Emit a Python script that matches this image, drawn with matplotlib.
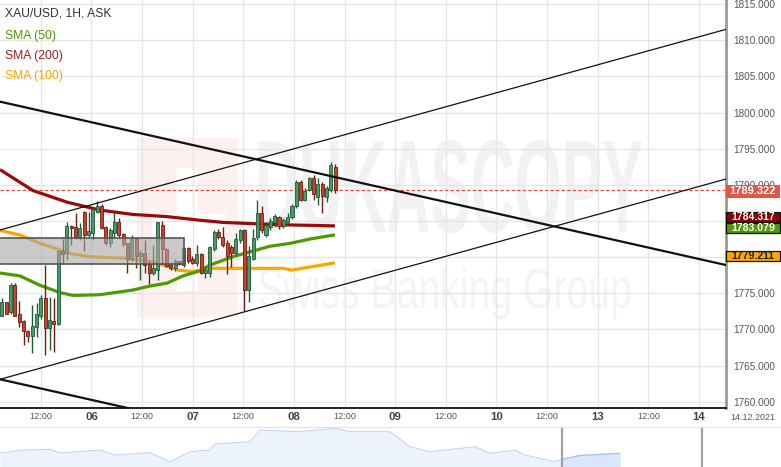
import numpy as np
import matplotlib
matplotlib.use('Agg')
import matplotlib.pyplot as plt
from matplotlib.patches import Rectangle, PathPatch
from matplotlib.textpath import TextPath
from matplotlib.font_manager import FontProperties
from matplotlib.transforms import Affine2D, blended_transform_factory

plt.rcParams['font.family'] = ['Liberation Sans', 'DejaVu Sans']

# hourly candles, hours counted from 06 00:00
opens = [1771.9, 1773.8, 1772.4, 1776.2, 1772.1, 1771.1, 1769.8, 1769.1, 1770.4, 1771.9,
         1774.4, 1770.2, 1771.1, 1770.8, 1780.9, 1780.5, 1784.3, 1784.1, 1782.8, 1786.2,
         1783.0, 1783.4, 1786.3, 1787.1, 1784.1, 1781.9, 1783.4, 1784.9, 1783.2, 1781.9,
         1779.8, 1782.5, 1780.1, 1780.6, 1779.1, 1777.8, 1778.2, 1784.4, 1781.1, 1778.9,
         1778.5, 1779.5, 1778.9, 1781.2, 1779.7, 1779.2, 1780.4, 1777.8, 1777.8, 1781.1,
         1783.5, 1782.8, 1782.0, 1781.4, 1780.5, 1782.4, 1783.7, 1775.5, 1779.8, 1782.8,
         1786.1, 1783.1, 1784.1, 1784.9, 1785.5, 1784.3, 1784.9, 1785.5, 1787.0, 1790.4,
         1787.9, 1789.3, 1791.0, 1788.3, 1790.1, 1788.3, 1789.3, 1792.5]
highs = [1774.4, 1773.8, 1776.4, 1776.4, 1773.9, 1771.3, 1769.9, 1773.4, 1773.7, 1774.8,
         1778.9, 1774.5, 1774.4, 1781.0, 1782.5, 1784.8, 1784.4, 1786.1, 1784.7, 1786.4,
         1786.3, 1786.8, 1787.7, 1787.3, 1784.3, 1784.0, 1786.3, 1785.4, 1783.3, 1782.0,
         1783.1, 1782.8, 1781.0, 1782.3, 1779.6, 1781.7, 1784.9, 1785.0, 1781.2, 1779.2,
         1779.7, 1779.5, 1781.4, 1781.4, 1780.1, 1781.7, 1780.5, 1778.6, 1781.5, 1783.7,
         1783.9, 1784.2, 1782.4, 1781.7, 1783.4, 1783.9, 1783.9, 1781.5, 1783.9, 1787.9,
         1787.0, 1784.9, 1785.4, 1785.9, 1785.7, 1785.4, 1786.1, 1787.4, 1790.7, 1790.7,
         1789.5, 1791.1, 1791.4, 1790.9, 1790.4, 1789.8, 1793.2, 1792.9]
lows = [1771.8, 1772.1, 1772.2, 1771.8, 1770.4, 1767.8, 1768.2, 1766.7, 1769.0, 1771.5,
        1766.5, 1767.2, 1766.9, 1770.6, 1779.1, 1779.6, 1781.7, 1782.5, 1782.4, 1780.9,
        1782.8, 1782.4, 1786.1, 1783.9, 1781.7, 1781.4, 1782.8, 1782.8, 1781.5, 1777.8,
        1779.4, 1778.5, 1776.8, 1777.8, 1776.3, 1777.5, 1776.8, 1779.1, 1778.6, 1778.2,
        1778.1, 1778.9, 1778.6, 1779.2, 1779.1, 1778.8, 1777.7, 1777.1, 1777.2, 1780.9,
        1782.5, 1781.4, 1777.7, 1778.6, 1780.3, 1782.0, 1772.5, 1773.8, 1779.6, 1782.4,
        1783.3, 1782.8, 1783.8, 1784.1, 1783.9, 1784.0, 1784.7, 1785.3, 1786.8, 1787.7,
        1787.7, 1789.1, 1787.9, 1787.2, 1786.1, 1787.6, 1789.0, 1788.9]
closes = [1773.8, 1772.2, 1776.2, 1771.9, 1771.0, 1769.8, 1769.1, 1770.5, 1772.1, 1774.4,
          1770.2, 1771.3, 1770.8, 1780.9, 1780.4, 1784.3, 1784.0, 1782.8, 1784.0, 1783.0,
          1783.6, 1786.6, 1787.1, 1784.0, 1781.9, 1783.7, 1784.9, 1783.1, 1781.8, 1779.8,
          1782.5, 1780.2, 1780.6, 1778.9, 1777.8, 1778.5, 1784.8, 1781.1, 1778.8, 1778.5,
          1779.4, 1779.1, 1781.2, 1779.5, 1779.2, 1780.4, 1777.8, 1778.2, 1781.4, 1783.5,
          1782.8, 1781.7, 1780.2, 1780.6, 1782.5, 1783.7, 1775.5, 1780.1, 1782.7, 1786.1,
          1783.8, 1784.4, 1785.0, 1785.7, 1784.3, 1785.1, 1785.6, 1787.1, 1790.4, 1787.9,
          1789.1, 1791.0, 1788.7, 1790.1, 1788.5, 1789.6, 1792.7, 1789.322]
candle_hours = np.linspace(-21.2, 57.8, len(closes))

# moving averages
sma50_hours = [-21.66, -16.92, -12.18, -7.44, -4.36, 2.04, 9.86, 13.89, 17.91, 21.71,
               25.73, 28.1, 33.55, 42.3, 47.06, 51.8, 57.72]
sma50 = [1777.8, 1777.4, 1776.1, 1775.1, 1774.7, 1774.8, 1775.45, 1776.0, 1776.4, 1777.4,
         1778.1, 1778.9, 1780.06, 1781.5, 1781.9, 1782.5, 1783.079]
sma100_hours = [-21.66, -16.92, -12.18, -7.44, -5.07, -0.33, 7.96, 14.36, 18.15, 20.52,
                23.85, 28.1, 39.95, 45.4, 47.5, 49.4, 57.72]
sma100 = [1783.7, 1783.05, 1781.9, 1781.0, 1780.5, 1780.06, 1779.83, 1779.36, 1778.7, 1778.2,
          1778.0, 1778.45, 1778.45, 1778.45, 1778.2, 1778.4, 1779.211]
sma200_hours = [-21.66, -13.84, -5.78, 2.04, 9.86, 17.91, 25.73, 31.18, 39.24, 47.06, 57.72]
sma200 = [1792.1, 1789.2, 1787.6, 1786.5, 1785.9, 1785.6, 1785.1, 1784.8, 1784.6, 1784.45, 1784.317]

# drawn trend lines: (start price, end price) across the visible range
line_hours = [-21.66, 150.4]
upper_trend = [1801.5, 1778.9]
lower_trend = [1763.1, 1740.5]
channel_top = [1783.75, 1811.5]
channel_bottom = [1763.1, 1790.8]

zone_hours = [-25, 22.0]
zone_prices = [1779.0, 1782.7]

last_price = 1789.322

tick_hours = [-12, 0, 12, 24, 36, 48, 60, 72, 84, 96, 108, 120, 132, 144]
tick_labels = ['12:00', '06', '12:00', '07', '12:00', '08', '12:00', '09',
               '12:00', '10', '12:00', '13', '12:00', '14']
price_ticks = np.arange(1760, 1816, 5)

# navigator overview series
nav_days = [0, 2.5, 5, 6, 10, 11.5, 15, 17, 19, 21, 21.5, 25, 26, 30, 33.5, 35, 39, 41,
            43, 47.5, 49, 51.5, 52.5, 55.5, 56.2, 58, 62]
nav_vals = [1774, 1777, 1777.7, 1774, 1777, 1772, 1774.3, 1765.3, 1775.3, 1777, 1783,
            1785.3, 1797, 1795.3, 1798.7, 1795.3, 1795.3, 1780.3, 1775.3, 1780.3, 1773.7,
            1777, 1772, 1765.3, 1767.7, 1771.5, 1773.7]
nav_handles = [56.2, 70.2]

green = '#4e9a06'
darkred = '#990b0b'
orange = '#ffa500'

fig = plt.figure(figsize=(7.81, 4.67), dpi=100)
ax = fig.add_axes([0, 59 / 467, 726 / 781, 408 / 467])
ax.set_xlim(line_hours)
ax.set_ylim(1759.13, 1815.56)
ax.set_axisbelow(True)


def watermark(text, x0, y0, x1, y1, color, weight='normal'):
    tp = TextPath((0, 0), text, size=1,
                  prop=FontProperties(family='Liberation Sans', weight=weight))
    bb = tp.get_extents()
    tr = (Affine2D().translate(-bb.x0, -bb.y0)
          .scale((x1 - x0) / bb.width, (y1 - y0) / bb.height)
          .translate(x0, y0) + ax.transAxes)
    ax.add_patch(PathPatch(tp, transform=tr, fc=color, ec='none', zorder=0.3))


# watermark logo and text
ax.add_patch(Rectangle((0.189, 0.223), 0.139, 0.439, transform=ax.transAxes,
                       fc='#fdf1f0', ec='none', zorder=0.2))
ax.add_patch(Rectangle((0.244, 0.287), 0.029, 0.301, transform=ax.transAxes,
                       fc='white', ec='none', zorder=0.25))
ax.add_patch(Rectangle((0.209, 0.385), 0.101, 0.09, transform=ax.transAxes,
                       fc='white', ec='none', zorder=0.25))
watermark('DUKASCOPY', 0.357, 0.429, 0.884, 0.657, '#f2f2f2', weight='bold')
watermark('Swiss Banking Group', 0.357, 0.216, 0.868, 0.346, '#f4f4f4')

ax.grid(True, color='#e6e6e6', lw=1)

# trend lines
ax.plot(line_hours, upper_trend, color='#111111', lw=1.6, zorder=6)
ax.plot(line_hours, lower_trend, color='#111111', lw=1.6, zorder=6)
ax.plot(line_hours, channel_top, color='#111111', lw=0.9, zorder=6)
ax.plot(line_hours, channel_bottom, color='#111111', lw=0.9, zorder=6)

ax.axhline(last_price, color='#e0473a', lw=0.8, ls=(0, (3, 2)), zorder=2.5)

# moving averages
ax.plot(sma200_hours, sma200, color=darkred, lw=2.3, zorder=2.8, solid_capstyle='butt')
ax.plot(sma100_hours, sma100, color=orange, lw=2.3, zorder=2.8, solid_capstyle='butt')
ax.plot(sma50_hours, sma50, color=green, lw=2.3, zorder=2.8, solid_capstyle='butt')

# candles
o, h, l, c = map(np.array, (opens, highs, lows, closes))
t = candle_hours
up = c >= o
dn = ~up
ax.vlines(t[up], l[up], h[up], color='#1f5a35', lw=1, zorder=3)
ax.vlines(t[dn], l[dn], h[dn], color='#6e1c12', lw=1, zorder=3)
ax.bar(t[up], np.maximum(c - o, 0.1)[up], bottom=o[up], width=0.72,
       color='#459a68', edgecolor='#1f5a35', lw=0.6, zorder=4)
ax.bar(t[dn], np.maximum(o - c, 0.1)[dn], bottom=c[dn], width=0.72,
       color='#c8412d', edgecolor='#6e1c12', lw=0.6, zorder=4)

# consolidation zone
ax.add_patch(Rectangle((zone_hours[0], zone_prices[0]), zone_hours[1] - zone_hours[0],
                       zone_prices[1] - zone_prices[0], fc='#a8a8a8', alpha=0.6,
                       ec='none', zorder=5))
ax.add_patch(Rectangle((zone_hours[0], zone_prices[0]), zone_hours[1] - zone_hours[0],
                       zone_prices[1] - zone_prices[0], fc='none', ec='#555555',
                       lw=1.2, zorder=5))

# axes styling
for side in ('top', 'left'):
    ax.spines[side].set_visible(False)
ax.spines['right'].set_color('#9a9a9a')
ax.spines['right'].set_linewidth(2)
ax.spines['bottom'].set_color('#111111')
ax.spines['bottom'].set_linewidth(1.3)

ax.yaxis.tick_right()
ax.set_yticks(price_ticks, [f'{p:.3f}' for p in price_ticks])
ax.tick_params(axis='y', length=0, pad=5, labelsize=7.2, labelcolor='#555555')
ax.set_xticks(tick_hours, tick_labels)
ax.tick_params(axis='x', length=0, pad=6.3)
for lab in ax.get_xticklabels():
    lab.set_va('center')
    if lab.get_text() == '12:00':
        lab.set_fontsize(6.6)
        lab.set_color('#555555')
    else:
        lab.set_fontsize(8.2)
        lab.set_fontweight('bold')
        lab.set_color('#444444')

fig.text(753 / 781, 1 - 417 / 467, '14.12.2021', ha='center', va='center',
         fontsize=6.4, color='#555555')

# legend block
ax.text(0.007, 0.966, 'XAU/USD, 1H, ASK', transform=ax.transAxes, va='center',
        fontsize=8.7, color='#333333')
ax.text(0.007, 0.912, 'SMA (50)', transform=ax.transAxes, va='center',
        fontsize=8.7, color=green)
ax.text(0.007, 0.863, 'SMA (200)', transform=ax.transAxes, va='center',
        fontsize=8.7, color='#a31d1d')
ax.text(0.007, 0.814, 'SMA (100)', transform=ax.transAxes, va='center',
        fontsize=8.7, color=orange)

# price labels on the right axis
blend = blended_transform_factory(ax.transAxes, ax.transData)
labels = [
    (last_price, 1789.1, 0.92, '#e0574a', 'white', 'none', 8.0),
    (sma200[-1], 1785.55, 0.73, '#8b0000', 'white', '#111111', 7.6),
    (sma50[-1], 1783.98, 0.69, green, 'white', '#111111', 7.6),
    (sma100[-1], 1780.18, 0.71, orange, '#222222', '#111111', 7.6),
]
for value, ypos, half, fc, tc, ec, fs in labels:
    ax.add_patch(Rectangle((1.0, ypos - half), 0.0745, 2 * half, transform=blend,
                           fc=fc, ec=ec, lw=0.9, clip_on=False, zorder=7))
    ax.text(1.037, ypos, f'{value:.3f}', transform=blend, ha='center', va='center',
            fontsize=fs, fontweight='bold', color=tc, clip_on=False, zorder=8)

# navigator
nav = fig.add_axes([0, 0, 1, 40 / 467])
nav.set_xlim(0, 78.1)
nav.set_ylim(1760, 1800)
nd = np.array(nav_days)
nv = np.array(nav_vals)
nav.fill_between(nd, nv, 1760, color='#edf3fd', lw=0)
sel = nd >= nav_handles[0]
nav.fill_between(nd[sel], nv[sel], 1760, color='#d9e6fb', lw=0)
nav.plot(nd, nv, color='#c3d6f4', lw=0.8)
nav.plot(nd[sel], nv[sel], color='#a9c3ee', lw=0.9)
for xh in nav_handles:
    nav.axvline(xh, color='#a3a3a3', lw=1.6)
nav.set_xticks([])
nav.set_yticks([])
for side in ('left', 'right', 'bottom'):
    nav.spines[side].set_visible(False)
nav.spines['top'].set_color('#e3e3e3')
nav.patch.set_alpha(0)

fig.savefig('out.png', dpi=100)
